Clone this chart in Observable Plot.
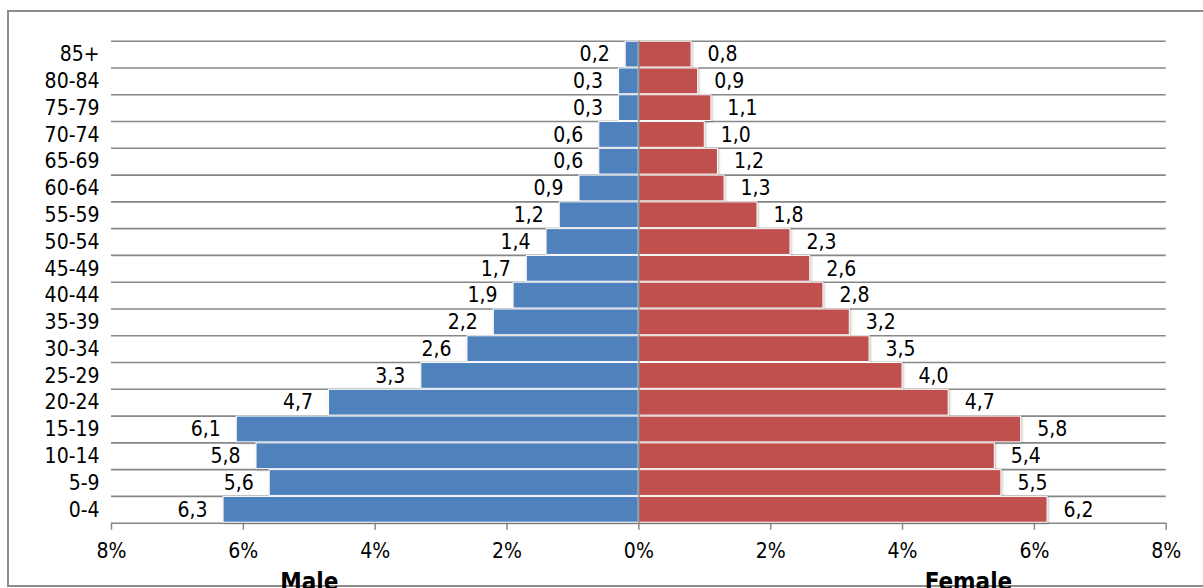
<!DOCTYPE html>
<html>
<head>
<meta charset="utf-8">
<script src="https://cdn.jsdelivr.net/npm/d3@7"></script>
<script src="https://cdn.jsdelivr.net/npm/@observablehq/plot@0.6"></script>
<style>
  html, body { margin: 0; padding: 0; background: #fff; overflow: hidden; }
  #wrap { position: relative; width: 1203px; height: 588px; overflow: hidden; }
  #frame { position: absolute; left: 7px; top: 10px; width: 1220px; height: 573px; border: 2px solid #8c8c8c; pointer-events: none; }
  #chart { position: absolute; left: 0; top: 0; }
  #chart g[aria-label="bar"] rect { filter: drop-shadow(1px 1px 1px rgba(0,0,0,0.25)); }
</style>
</head>
<body>
<div id="wrap"><div id="frame"></div><div id="chart"></div></div>
<script>
const ages = ["85+","80-84","75-79","70-74","65-69","60-64","55-59","50-54","45-49","40-44","35-39","30-34","25-29","20-24","15-19","10-14","5-9","0-4"];
const male = [0.2,0.3,0.3,0.6,0.6,0.9,1.2,1.4,1.7,1.9,2.2,2.6,3.3,4.7,6.1,5.8,5.6,6.3];
const female = [0.8,0.9,1.1,1.0,1.2,1.3,1.8,2.3,2.6,2.8,3.2,3.5,4.0,4.7,5.8,5.4,5.5,6.2];
const xTicks = [-8,-6,-4,-2,0,2,4,6,8];
const sexes = ["Male","Female"];
const colors = ["#4F81BD","#C0504D"];

const fmt = v => v.toFixed(1).replace(".", ",");
const data = ages.flatMap((a, i) => [
  {age: a, sex: "Male", v: -male[i], label: fmt(male[i])},
  {age: a, sex: "Female", v: female[i], label: fmt(female[i])}
]);

const W = 1203, H = 588, mt = 40.7, mb = 65.3, ml = 111, mr = 37.3;
const bw = (H - mt - mb) / ages.length;
const font = "'DejaVu Sans Condensed', 'DejaVu Sans', sans-serif";

const chart = Plot.plot({
  width: W, height: H,
  marginTop: mt, marginBottom: mb, marginLeft: ml, marginRight: mr,
  style: {fontFamily: font, fontSize: "21px", fontStretch: "condensed", background: "transparent", color: "#000"},
  x: {domain: [-8, 8]},
  y: {domain: ages, padding: 0, round: false},
  color: {domain: sexes, range: colors},
  marks: [
    Plot.ruleY(ages, {y: d => d, dy: -bw / 2, stroke: "#878787", strokeWidth: 1.6}),
    Plot.ruleY([ages[ages.length - 1]], {y: d => d, dy: bw / 2, stroke: "#878787", strokeWidth: 1.6}),
    Plot.barX(data, {x: "v", y: "age", fill: "sex", stroke: "white", strokeWidth: 1, insetTop: 0.5, insetBottom: 0.5}),
    Plot.ruleX([0], {stroke: "#8c8c8c", strokeWidth: 1.5}),
    Plot.text(data.filter(d => d.sex === "Male"), {x: "v", y: "age", text: "label", textAnchor: "end", dx: -16, fill: "#000"}),
    Plot.text(data.filter(d => d.sex === "Female"), {x: "v", y: "age", text: "label", textAnchor: "start", dx: 16, fill: "#000"}),
    Plot.axisX({ticks: xTicks, tickFormat: d => Math.abs(d) + "%", tickSize: 7, tickPadding: 13, stroke: "#878787", strokeWidth: 1.5, fill: "#000", label: null}),
    Plot.axisY({tickSize: 0, tickPadding: 12, label: null, fill: "#000"}),
    Plot.text(sexes, {x: d => d === "Male" ? -5 : 5, frameAnchor: "bottom", lineAnchor: "bottom", dy: 67, text: d => d, fontWeight: "bold", fontSize: 24, fill: "#000"})
  ]
});
document.getElementById("chart").appendChild(chart);
</script>
</body>
</html>
